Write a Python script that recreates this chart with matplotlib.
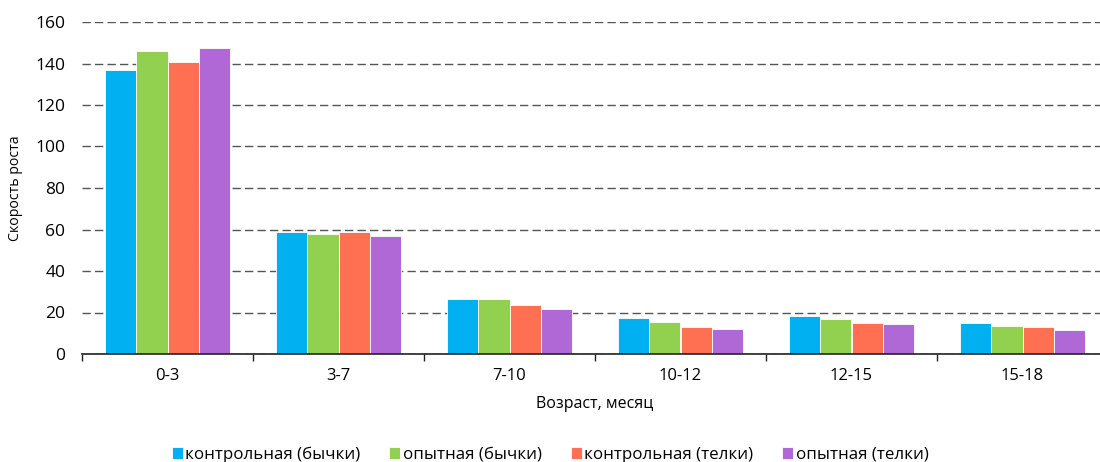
import matplotlib.pyplot as plt
import numpy as np

plt.rcParams['font.family'] = ['Open Sans', 'DejaVu Sans']

# age groups (months)
ages = ['0-3', '3-7', '7-10', '10-12', '12-15', '15-18']

# growth rate per group
control_bulls = [137, 58.8, 26.4, 17.3, 18.3, 14.9]
exp_bulls = [146, 57.8, 26.5, 15.3, 16.7, 13.6]
control_heifers = [140.5, 58.8, 23.6, 12.9, 15.1, 12.9]
exp_heifers = [147.5, 56.9, 21.7, 11.9, 14.3, 11.7]

series = [control_bulls, exp_bulls, control_heifers, exp_heifers]
names = ['контрольная (бычки)', 'опытная (бычки)', 'контрольная (телки)', 'опытная (телки)']
colors = ['#00B0F0', '#92D050', '#FF7052', '#B068D6']

fig = plt.figure(figsize=(11, 4.62), dpi=100)
ax = fig.add_axes([82/1100, 108/462, 1026/1100, 332/462])

x = np.arange(len(ages))
w = 0.182
for i, (vals, name, c) in enumerate(zip(series, names, colors)):
    ax.bar(x + (i - 1.5) * w, vals, w, color=c, label=name,
           edgecolor='white', linewidth=0.6, zorder=3)

ax.set_xlim(-0.5, len(ages) - 0.5)
ax.set_ylim(0, 160)
ax.set_yticks(range(0, 161, 20))
ax.set_xticks(x)
ax.set_xticklabels(ages)
ax.set_xticks(np.arange(-0.5, len(ages), 1), minor=True)
ax.tick_params(axis='x', which='major', length=0, pad=10, labelsize=12)
ax.tick_params(axis='x', which='minor', length=5, width=1, color='#222222', direction='out')
ax.tick_params(axis='y', length=0, pad=12, labelsize=12.5)

ax.grid(axis='y', linestyle=(0, (6, 3)), color='#555555', linewidth=1, zorder=0)
for s in ['top', 'right', 'left']:
    ax.spines[s].set_visible(False)
ax.spines['bottom'].set_color('#222222')
ax.spines['bottom'].set_linewidth(1.2)
ax.spines['bottom'].set_zorder(4)

ax.set_ylabel('Скорость роста', fontsize=10.2, labelpad=9)
ax.set_xlabel('Возраст, месяц', fontsize=11.5, labelpad=9)

fig.legend(loc='lower center', bbox_to_anchor=(0.5, -0.035), ncol=4, frameon=False,
           fontsize=12.2, handlelength=0.65, handleheight=0.65, handletextpad=0.15,
           columnspacing=1.7)

fig.savefig('out.png', dpi=100)
